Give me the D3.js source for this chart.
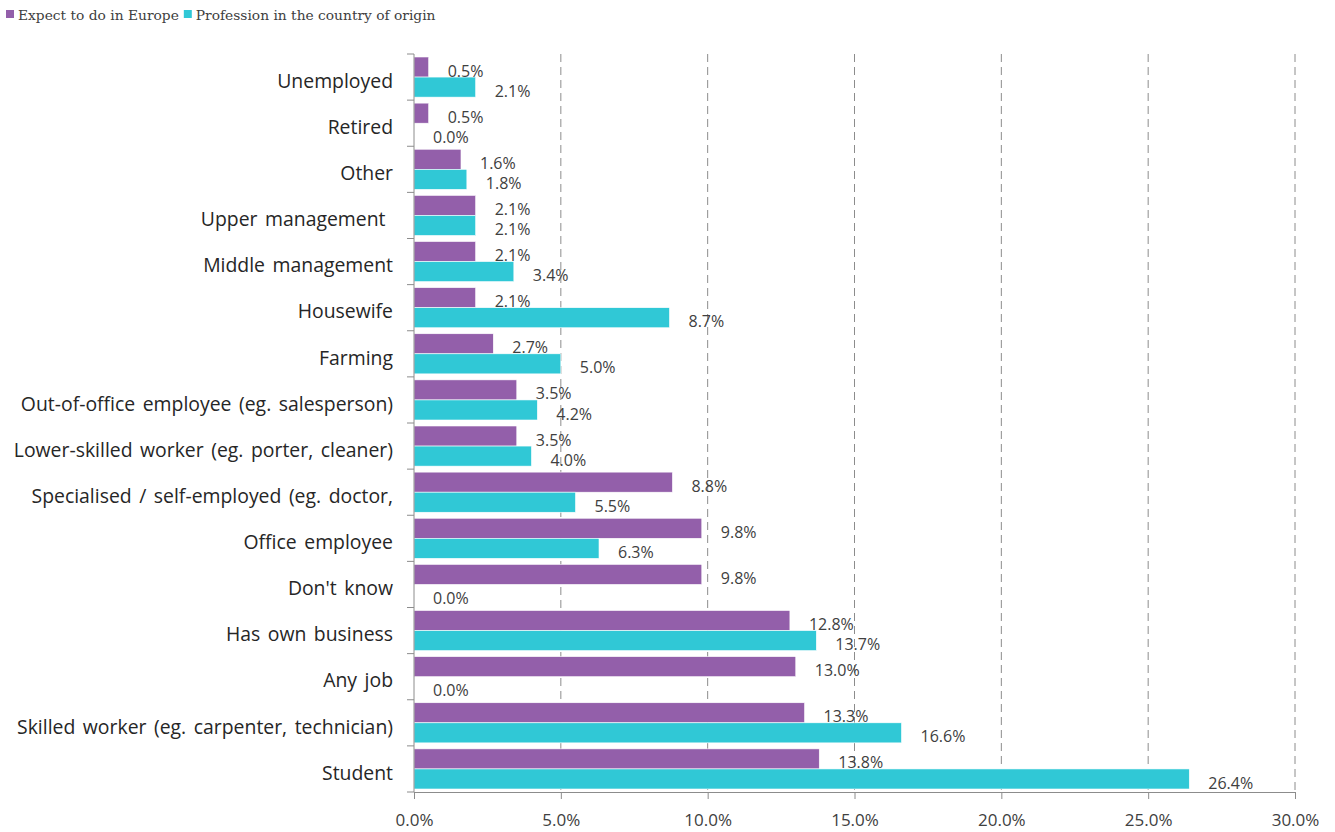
<!DOCTYPE html>
<html>
<head>
<meta charset="utf-8">
<script src="https://cdn.jsdelivr.net/npm/d3@7"></script>
<style>
  html, body { margin: 0; padding: 0; background: #fff; }
  svg { display: block; }
  .cat-label { white-space: pre; }
</style>
</head>
<body>
<svg id="chart" width="1335" height="832"></svg>
<script>
// Occupation categories, listed top to bottom
const categories = [
  "Unemployed",
  "Retired",
  "Other",
  "Upper management ",
  "Middle management",
  "Housewife",
  "Farming",
  "Out-of-office employee (eg. salesperson)",
  "Lower-skilled worker (eg. porter, cleaner)",
  "Specialised / self-employed (eg. doctor,",
  "Office employee",
  "Don't know",
  "Has own business",
  "Any job",
  "Skilled worker (eg. carpenter, technician)",
  "Student"
];

const seriesNames = ["Expect to do in Europe", "Profession in the country of origin"];

// Shares in percent
const expectInEurope = [0.5, 0.5, 1.6, 2.1, 2.1, 2.1, 2.7, 3.5, 3.5, 8.8, 9.8, 9.8, 12.8, 13.0, 13.3, 13.8];
const professionOrigin = [2.1, 0.0, 1.8, 2.1, 3.4, 8.7, 5.0, 4.2, 4.0, 5.5, 6.3, 0.0, 13.7, 0.0, 16.6, 26.4];

const xTicks = [0, 5, 10, 15, 20, 25, 30];

const colors = ["#935FAA", "#30C8D6"];
const series = [expectInEurope, professionOrigin];

const sans = "'Open Sans', 'Liberation Sans', Arial, sans-serif";

const svg = d3.select("#chart");
const margin = { left: 414, top: 54 };
const plotRight = 1295;
const plotBottom = 792;

const x = d3.scaleLinear().domain([0, 30]).range([margin.left, plotRight]);
const y = d3.scaleBand().domain(categories).range([margin.top, plotBottom]).paddingInner(0.13).paddingOuter(0.065);
const ySub = d3.scaleBand().domain([0, 1]).range([0, y.bandwidth()]);

// Band boundaries for the left-axis ticks
const yBoundary = d3.scaleLinear().domain([0, categories.length]).range([margin.top, plotBottom]);

// Dashed vertical gridlines
svg.append("g")
  .selectAll("line")
  .data(xTicks.filter(d => d > 0))
  .join("line")
  .attr("x1", d => x(d)).attr("x2", d => x(d))
  .attr("y1", margin.top).attr("y2", plotBottom)
  .attr("stroke", "#8c8c8c")
  .attr("stroke-width", 1)
  .attr("stroke-dasharray", "8,5");

// Bars
const groups = svg.append("g")
  .selectAll("g")
  .data(categories)
  .join("g")
  .attr("transform", d => `translate(0,${y(d)})`);

groups.selectAll("rect")
  .data((d, i) => series.map((s, k) => ({ k, v: s[i] })))
  .join("rect")
  .attr("x", x(0))
  .attr("y", d => ySub(d.k))
  .attr("width", d => x(d.v) - x(0))
  .attr("height", ySub.bandwidth())
  .attr("fill", d => colors[d.k])
  .attr("stroke", "#ffffff")
  .attr("stroke-width", 0.6);

// Value labels
groups.selectAll("text")
  .data((d, i) => series.map((s, k) => ({ k, v: s[i] })))
  .join("text")
  .attr("x", d => x(d.v) + 19)
  .attr("y", d => ySub(d.k) + ySub.bandwidth() / 2 + 4)
  .attr("dy", "0.35em")
  .attr("font-family", sans)
  .attr("font-size", 16)
  .attr("fill", "#404040")
  .text(d => d.v.toFixed(1) + "%");

// Left axis line with boundary ticks
const axisColor = "#8c8c8c";
svg.append("line")
  .attr("x1", x(0)).attr("x2", x(0))
  .attr("y1", margin.top).attr("y2", plotBottom)
  .attr("stroke", axisColor);
svg.append("g")
  .selectAll("line")
  .data(d3.range(categories.length + 1))
  .join("line")
  .attr("x1", x(0) - 7).attr("x2", x(0))
  .attr("y1", d => yBoundary(d)).attr("y2", d => yBoundary(d))
  .attr("stroke", axisColor);

// Category labels
svg.append("g")
  .selectAll("text")
  .data(categories)
  .join("text")
  .attr("class", "cat-label")
  .attr("x", x(0) - 21)
  .attr("y", d => y(d) + y.bandwidth() / 2 + 4)
  .attr("dy", "0.35em")
  .attr("text-anchor", "end")
  .attr("font-family", sans)
  .attr("font-size", 19.4)
  .attr("word-spacing", "2.5px")
  .attr("fill", "#262626")
  .text(d => d);

// Bottom axis
const xAxis = d3.axisBottom(x)
  .tickValues(xTicks)
  .tickSize(7)
  .tickFormat(d => d.toFixed(1) + "%");
const gx = svg.append("g")
  .attr("transform", `translate(0,${plotBottom})`)
  .call(xAxis);
gx.select(".domain").attr("stroke", axisColor);
gx.selectAll(".tick line").attr("stroke", axisColor);
gx.selectAll(".tick text")
  .attr("y", 28)
  .attr("dy", "0.35em")
  .attr("font-family", sans)
  .attr("font-size", 17)
  .attr("fill", "#404040");

// Legend
const legend = svg.append("g").attr("transform", "translate(6,15)");
let lx = 0;
seriesNames.forEach((name, k) => {
  legend.append("rect")
    .attr("x", lx).attr("y", -5)
    .attr("width", 8).attr("height", 8)
    .attr("fill", colors[k]);
  const t = legend.append("text")
    .attr("x", lx + 12)
    .attr("y", 0)
    .attr("dy", "0.35em")
    .attr("font-family", "'DejaVu Serif', 'Liberation Serif', serif")
    .attr("font-size", 13.8)
    .attr("fill", "#404040")
    .text(name);
  lx += 12 + t.node().getComputedTextLength() + 5;
});
</script>
</body>
</html>
